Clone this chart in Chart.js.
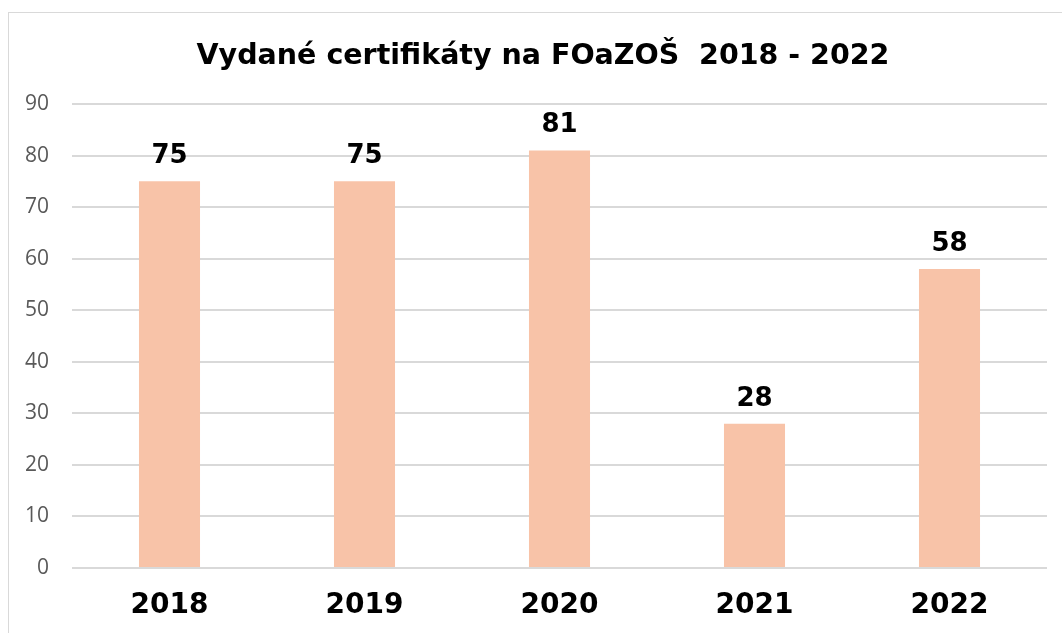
<!DOCTYPE html>
<html>
<head>
<meta charset="utf-8">
<script src="https://cdn.jsdelivr.net/npm/chart.js@4"></script>
<style>
  html, body { margin: 0; padding: 0; background: #fff; overflow: hidden; }
  #box {
    position: absolute; left: 8px; top: 12px;
    width: 1068px; height: 640px;
    border: 1px solid #d9d9d9; background: #fff;
  }
</style>
</head>
<body>
<div id="box"><canvas id="myChart" width="1068" height="620"></canvas></div>
<script>
const years = ["2018", "2019", "2020", "2021", "2022"];
const certifikaty = [75, 75, 81, 28, 58];
const chartTitle = "Vydané certifikáty na FOaZOŠ  2018 - 2022";

// popisky hodnot nad sloupci
const valueLabels = {
  id: "valueLabels",
  afterDatasetsDraw(chart) {
    const ctx = chart.ctx;
    const meta = chart.getDatasetMeta(0);
    ctx.save();
    ctx.font = "bold 26px 'DejaVu Sans'";
    ctx.fillStyle = "#000";
    ctx.textAlign = "center";
    ctx.textBaseline = "alphabetic";
    meta.data.forEach((bar, i) => {
      ctx.fillText(chart.data.datasets[0].data[i], bar.x, bar.y - 18);
    });
    ctx.restore();
  },
};

// nadpis vycentrovany na celou plochu grafu (jako v Excelu)
const centeredTitle = {
  id: "centeredTitle",
  afterDraw(chart) {
    const ctx = chart.ctx;
    ctx.save();
    ctx.font = "bold 28.5px 'DejaVu Sans'";
    ctx.fillStyle = "#000";
    ctx.textAlign = "center";
    ctx.textBaseline = "middle";
    ctx.fillText(chartTitle, chart.width / 2, 44);
    ctx.restore();
  },
};

const ctx1 = document.querySelector("#myChart");

new Chart(ctx1, {
  type: "bar",
  data: {
    labels: years,
    datasets: [
      {
        data: certifikaty,
        backgroundColor: "#F8C3A8",
        barPercentage: 0.313,
        categoryPercentage: 1,
      },
    ],
  },
  plugins: [valueLabels, centeredTitle],
  options: {
    responsive: false,
    animation: false,
    layout: { padding: { top: 91, right: 30, bottom: 0, left: 0 } },
    plugins: {
      legend: { display: false },
      tooltip: { enabled: false },
      title: { display: false },
    },
    scales: {
      x: {
        grid: { display: false, drawTicks: false },
        border: { display: false },
        ticks: {
          color: "#000",
          padding: 21,
          font: { family: "'DejaVu Sans'", size: 28, weight: "bold" },
        },
        afterFit(s) { s.height = 65; },
      },
      y: {
        min: 0,
        max: 90,
        grid: { color: "#d9d9d9", lineWidth: 2, drawTicks: false },
        border: { display: false },
        ticks: {
          stepSize: 10,
          color: "#595959",
          padding: 23,
          font: { family: "'Open Sans'", size: 21 },
        },
        afterFit(s) { s.width = 63; },
      },
    },
  },
});
</script>
</body>
</html>
